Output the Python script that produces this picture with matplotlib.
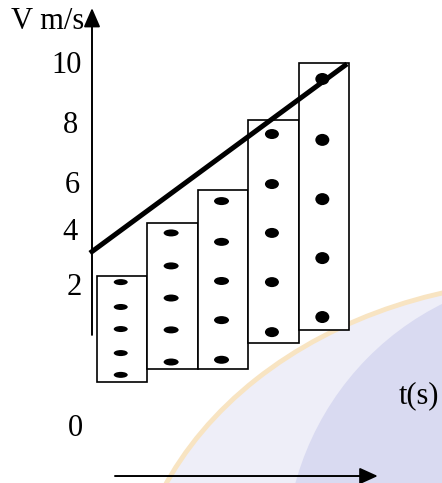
import matplotlib.pyplot as plt
from matplotlib.patches import Ellipse

# Ticker-tape strips: each strip is one time interval, dots are the ticks
strip_bottom = [-1.45, -0.97, -0.97, -0.04, 0.43]
strip_top = [2.36, 4.26, 5.44, 7.94, 9.98]
strip_dots = [
    [2.14, 1.25, 0.46, -0.40, -1.18],
    [3.90, 2.72, 1.57, 0.43, -0.72],
    [5.04, 3.58, 2.18, 0.78, -0.64],
    [7.44, 5.65, 3.90, 2.14, 0.35],
    [9.41, 7.23, 5.11, 3.00, 0.89],
]
# straight line through the strip tops
fit_t = [-0.04, 5.06]
fit_v = [3.18, 9.95]

v_labels = ['10', '8', '6', '4', '2', '0']

# layout: pixel -> data scale
X0_PX, PX_PER_T = 92.0, 50.4
V0_PX, PX_PER_V = 341.9, 27.94
W, H = 442, 483

plt.rcParams['font.family'] = ['Liberation Serif', 'DejaVu Serif']

fig = plt.figure(figsize=(W / 100, H / 100), dpi=100)

# faint logo in the background
bg = fig.add_axes([0, 0, 1, 1])
bg.set_xlim(0, W)
bg.set_ylim(H, 0)
bg.axis('off')
bg.add_patch(Ellipse((560, 620), 860, 680, facecolor='#eeeef8',
                     edgecolor='#f8e4c2', lw=3.5))
bg.add_patch(Ellipse((565, 560), 560, 570, facecolor='#d9daf1',
                     edgecolor='none'))

ax = fig.add_axes([0, 0, 1, 1])
ax.patch.set_alpha(0)
ax.set_xlim(-X0_PX / PX_PER_T, (W - X0_PX) / PX_PER_T)
ax.set_ylim((V0_PX - H) / PX_PER_V, V0_PX / PX_PER_V)
ax.axis('off')

n = len(strip_top)
left = [0.1 + i for i in range(n)]
heights = [t - b for t, b in zip(strip_top, strip_bottom)]
ax.bar(left, heights, bottom=strip_bottom, width=1.0, align='edge',
       facecolor='white', edgecolor='black', linewidth=1.2, zorder=2)

# dots get rounder as the tape speeds up
dot_w_px = [14, 15, 15, 14, 14]
dot_h_px = [6, 7, 8, 10, 12]
for i, dots in enumerate(strip_dots):
    for v in dots:
        ax.add_patch(Ellipse((left[i] + 0.47, v), dot_w_px[i] / PX_PER_T,
                             dot_h_px[i] / PX_PER_V, facecolor='black',
                             edgecolor='none', zorder=3))

ax.plot(fit_t, fit_v, color='black', lw=3.6, solid_capstyle='butt', zorder=4)

# velocity axis
ax.annotate('', xy=(0, 11.95), xytext=(0, 0.25),
            arrowprops=dict(arrowstyle='-|>,head_length=1.15,head_width=0.5',
                            mutation_scale=10, lw=1.4, color='black',
                            shrinkA=0, shrinkB=0), zorder=5)
# time arrow
ax.annotate('', xy=(5.67, -4.80), xytext=(0.456, -4.80),
            arrowprops=dict(arrowstyle='-|>,head_length=1.1,head_width=0.5',
                            mutation_scale=10, lw=1.4, color='black',
                            shrinkA=0, shrinkB=0), zorder=5)

label_x = [-0.506, -0.427, -0.397, -0.444, -0.347, -0.327]
label_y = [9.62, 7.48, 5.33, 3.65, 1.68, -3.37]
for txt, x, y in zip(v_labels, label_x, label_y):
    ax.text(x, y, txt, ha='center', va='baseline', fontsize=22)

ax.text(-1.60, 11.2, 'V m/s', ha='left', va='baseline', fontsize=22)
ax.text(6.09, -2.19, 't(s)', ha='left', va='baseline', fontsize=22)

fig.savefig('out.png', dpi=100)
